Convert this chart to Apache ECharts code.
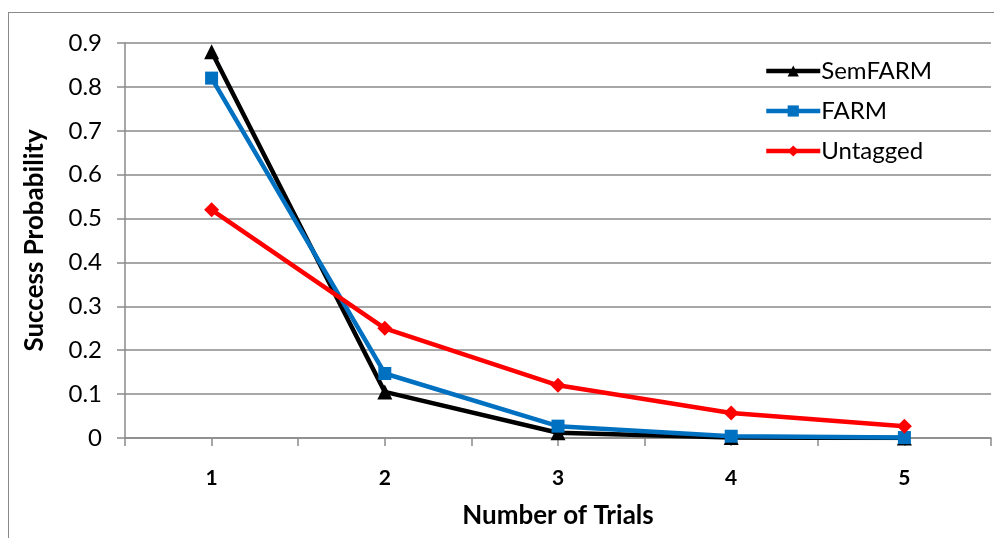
<!DOCTYPE html>
<html>
<head>
<meta charset="utf-8">
<script src="https://cdn.jsdelivr.net/npm/echarts@6/dist/echarts.min.js"></script>
<style>
  html, body { margin: 0; padding: 0; background: #fff; overflow: hidden; }
  #frame { position: absolute; left: 8px; top: 12px; width: 1100px; height: 700px; border: 1.5px solid #8a8a8a; }
  #main { position: absolute; left: 0; top: 0; width: 994px; height: 538px; }
</style>
</head>
<body>
<div id="frame"></div>
<div id="main"></div>
<script>
var trials = [1, 2, 3, 4, 5];
var semFarm = [0.88, 0.105, 0.012, 0.001, 0];
var farm = [0.82, 0.147, 0.027, 0.004, 0.001];
var untagged = [0.52, 0.25, 0.12, 0.057, 0.027];
var yTicks = [0, 0.1, 0.2, 0.3, 0.4, 0.5, 0.6, 0.7, 0.8, 0.9];

function pairs(vals) {
  return trials.map(function (t, i) { return [t, vals[i]]; });
}

var chart = echarts.init(document.getElementById('main'));
var font = 'Lato, "Noto Sans", sans-serif';

option = {
  backgroundColor: 'transparent',
  textStyle: { fontFamily: font },
  grid: { left: 125, right: 0, top: 43, bottom: 100 },
  legend: {
    orient: 'vertical',
    left: 759,
    top: 54,
    itemWidth: 54,
    itemHeight: 14,
    itemGap: 16,
    lineStyle: { width: 4.5 },
    textStyle: { fontSize: 24, color: '#000', fontFamily: font, padding: [0, 0, 0, -4] },
    data: ['SemFARM', 'FARM', 'Untagged']
  },
  xAxis: {
    type: 'value',
    min: 0.5,
    max: 5.5,
    interval: 0.5,
    name: 'Number of Trials',
    nameLocation: 'middle',
    nameGap: 65,
    nameTextStyle: { fontSize: 26, fontWeight: 'bold', color: '#000', fontFamily: font },
    axisLine: { lineStyle: { color: '#8a8a8a', width: 1.5 } },
    axisTick: { show: true, length: 8, lineStyle: { color: '#8a8a8a', width: 1.5 } },
    splitLine: { show: false },
    axisLabel: {
      fontSize: 21, fontWeight: 'bold', color: '#000', margin: 30,
      formatter: function (v) { return trials.indexOf(v) >= 0 ? String(v) : ''; }
    }
  },
  yAxis: {
    type: 'value',
    min: 0,
    max: 0.9,
    interval: 0.1,
    name: 'Success Probability',
    nameLocation: 'middle',
    nameGap: 77,
    nameTextStyle: { fontSize: 26, fontWeight: 'bold', color: '#000', fontFamily: font },
    axisLine: { show: true, lineStyle: { color: '#8a8a8a', width: 1.5 } },
    axisTick: { show: true, length: 8, lineStyle: { color: '#8a8a8a', width: 1.5 } },
    splitLine: { lineStyle: { color: '#8a8a8a', width: 1.5 } },
    axisLabel: {
      fontSize: 24, color: '#000', margin: 23,
      formatter: function (v) {
        var i = yTicks.findIndex(function (t) { return Math.abs(t - v) < 1e-9; });
        return i >= 0 ? (yTicks[i] === 0 ? '0' : yTicks[i].toFixed(1)) : '';
      }
    }
  },
  series: [
    {
      name: 'SemFARM', type: 'line', data: pairs(semFarm),
      symbol: 'triangle', symbolSize: 15,
      lineStyle: { color: '#000', width: 4.5 },
      itemStyle: { color: '#000' }, z: 2
    },
    {
      name: 'FARM', type: 'line', data: pairs(farm),
      symbol: 'rect', symbolSize: 13,
      lineStyle: { color: '#0070C0', width: 4.5 },
      itemStyle: { color: '#0070C0' }, z: 3
    },
    {
      name: 'Untagged', type: 'line', data: pairs(untagged),
      symbol: 'diamond', symbolSize: 15,
      lineStyle: { color: '#FF0000', width: 4.5 },
      itemStyle: { color: '#FF0000' }, z: 4
    }
  ],
  animation: false
};
chart.setOption(option);
</script>
</body>
</html>
